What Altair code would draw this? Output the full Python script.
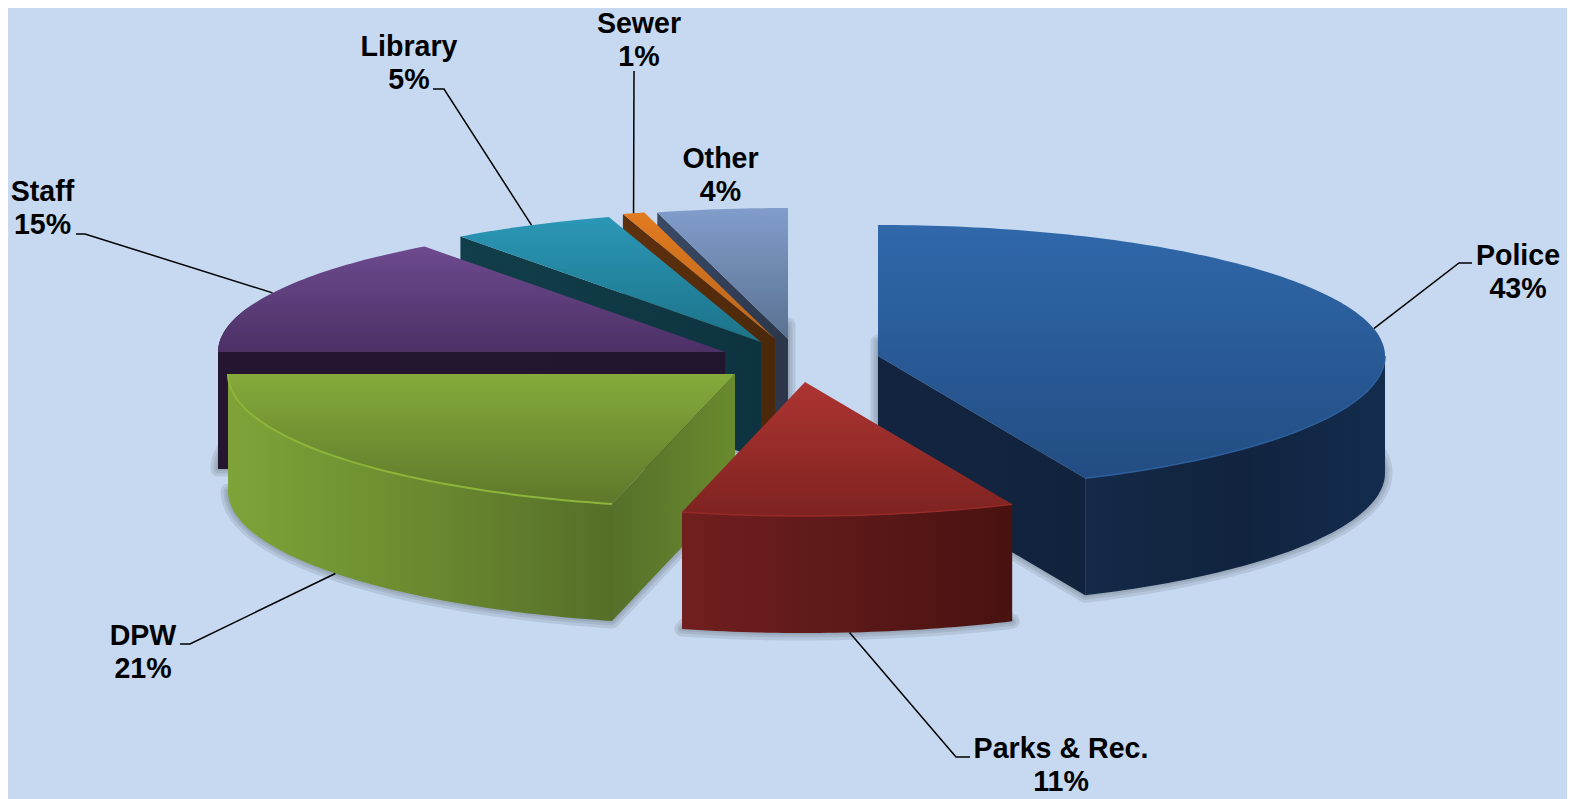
import math
import altair as alt
import pandas as pd

# ---- data ----
CATEGORIES = ["Police", "Parks & Rec.", "DPW", "Staff", "Library", "Sewer", "Other"]
SHARES = [43.3, 10.6, 21.1, 14.9, 5.25, 0.7, 4.15]

# ---- styling / layout ----
BG = "#c6d9f1"
W, H = 1559, 791
RX, RY_BACK, RY_FRONT, DEPTH = 507, 131, 134, 117
APEX = {"Police": (878, 356), "Parks & Rec.": (805, 382), "DPW": (735, 374), "Staff": (725, 352),
        "Library": (761, 342), "Sewer": (775, 339), "Other": (788, 339)}
LEADER = {"Police": [(1459, 263), (1472, 263)], "Parks & Rec.": [(956, 757), (970, 757)],
          "DPW": [(190, 644), (180, 644)], "Staff": [(85, 234), (76, 234)],
          "Library": [(444, 89), (433, 89)], "Sewer": [(634, 71)]}
LABEL = {"Police": (1518, 256), "Parks & Rec.": (1061, 749), "DPW": (143, 636), "Staff": (42.5, 192),
         "Library": (409, 46.5), "Sewer": (639, 24), "Other": (720.5, 158.5)}
TOP = {"Police": ("#3068aa", "#224d83"), "Parks & Rec.": ("#ad3432", "#7e2320"), "DPW": ("#86aa3b", "#5d782a"),
       "Staff": ("#6d4a8e", "#4c3066"), "Library": ("#2b97b6", "#1c7389"), "Sewer": ("#e27b20", "#b9651c"),
       "Other": ("#819dcb", "#5a7191")}
WALL = {"Police": ("#142a48", "#11233e", "#132c4e"), "Parks & Rec.": ("#701f1e", "#5c1918", "#481210"),
        "DPW": ("#7fa338", "#6b8a30", "#556f29"), "Staff": ("#241630", "#241630", "#241630")}
SIDE = {"Police": ("#12243f", "#11233c"), "DPW": ("#55702a", "#6a8a2e"), "Staff": ("#241630", "#22162e"),
        "Library": ("#113e4a", "#0e3340"), "Sewer": ("#5f310e", "#4b280b"), "Other": ("#3a4965", "#2b364a")}
RIM = {"DPW": "#8db53a", "Parks & Rec.": "#962a28", "Police": "#2d5f9c"}
RADIAL_FROM_END = ("Police",)


def pt(name, theta, z=0):
    ax, ay = APEX[name]
    r = math.radians(theta)
    c = math.cos(r)
    ry = RY_BACK if c >= 0 else RY_FRONT
    return (ax + RX * math.sin(r), ay - ry * c + z)


def arc(name, a, b, z=0):
    n = max(2, int(abs(b - a)) + 2)
    return [pt(name, a + (b - a) * i / (n - 1), z) for i in range(n)]


X = alt.Scale(domain=[8, 8 + W])
Y = alt.Scale(domain=[8 + H, 8])


def frame(points):
    return pd.DataFrame({"x": [p[0] for p in points], "y": [p[1] for p in points],
                         "i": list(range(len(points)))})


def enc(mark):
    return mark.encode(x=alt.X("x:Q", scale=X, axis=None), y=alt.Y("y:Q", scale=Y, axis=None),
                       order="i:Q")


def grad(colors, horizontal=False):
    stops = [alt.GradientStop(color=c, offset=i / (len(colors) - 1)) for i, c in enumerate(colors)]
    if horizontal:
        return alt.Gradient(gradient="linear", stops=stops, x1=0, x2=1, y1=0, y2=0)
    return alt.Gradient(gradient="linear", stops=stops, x1=0, x2=0, y1=0, y2=1)


def poly(points, fill):
    pts = points + [points[0]]
    return enc(alt.Chart(frame(pts)).mark_line(fill=fill, stroke="transparent", strokeWidth=0, interpolate="linear"))


def path(points, color, width):
    return enc(alt.Chart(frame(points)).mark_line(stroke=color, strokeWidth=width, interpolate="linear"))


# slice angles from the shares
angles = {}
t = 0.0
for c, s in zip(CATEGORIES, SHARES):
    angles[c] = (t, t + s * 3.6)
    t += s * 3.6

layers = []

# soft shadow: the floor of each slice
for name in CATEGORIES:
    a, b = angles[name]
    ax, ay = APEX[name]
    floor = [(ax, ay + DEPTH)] + arc(name, a, b, DEPTH)
    floor = floor + [floor[0]]
    for w in (15, 9, 4):
        layers.append(enc(alt.Chart(frame(floor)).mark_line(
            stroke="#4a4f55", fill="#4a4f55", strokeWidth=w, opacity=0.13, strokeJoin="round")))

for name in ["Other", "Sewer", "Library", "Staff", "Police", "DPW", "Parks & Rec."]:
    a, b = angles[name]
    ax, ay = APEX[name]
    # straight side wall facing the viewer
    if name in SIDE:
        e = pt(name, b) if name in RADIAL_FROM_END else pt(name, a)
        layers.append(poly([e, (ax, ay), (ax, ay + DEPTH), (e[0], e[1] + DEPTH)],
                           grad(SIDE[name], horizontal=True)))
    # outer rim wall
    if name in WALL:
        lo, hi = a, b
        if name == "Police":
            lo = 90
        if name == "Staff":
            hi = a + 20
        top = arc(name, lo, hi)
        bot = arc(name, lo, hi, DEPTH)
        layers.append(poly(top + bot[::-1], grad(list(WALL[name]), horizontal=True)))
    # top face
    layers.append(poly([(ax, ay)] + arc(name, a, b), grad(TOP[name])))
    if name in RIM:
        lo = 90 if name == "Police" else a
        layers.append(path(arc(name, lo, b), RIM[name], 1.5 if name != "DPW" else 2))

# leader lines start on the rim at each slice's middle angle
for name in CATEGORIES:
    if name not in LEADER:
        continue
    a, b = angles[name]
    mid = (a + b) / 2
    z = DEPTH if 90 < mid < 270 else 0
    layers.append(path([pt(name, mid, z)] + LEADER[name], "#000000", 1.5))

labels = pd.DataFrame({
    "t": [f"{c}\n{round(s)}%" for c, s in zip(CATEGORIES, SHARES)],
    "x": [LABEL[c][0] for c in CATEGORIES],
    "y": [LABEL[c][1] for c in CATEGORIES],
})
layers.append(alt.Chart(labels).mark_text(
    font="Liberation Sans", fontWeight="bold", fontSize=28.6, color="#000000", lineBreak="\n",
    lineHeight=33, align="center", baseline="middle").encode(
    x=alt.X("x:Q", scale=X, axis=None), y=alt.Y("y:Q", scale=Y, axis=None), text="t:N"))

chart = alt.layer(*layers).properties(
    width=W, height=H, background=BG, padding=0,
    autosize=alt.AutoSizeParams(type="none"),
).configure_view(stroke=None)

chart.save("out.html", embed_options={"renderer": "svg", "actions": False})
